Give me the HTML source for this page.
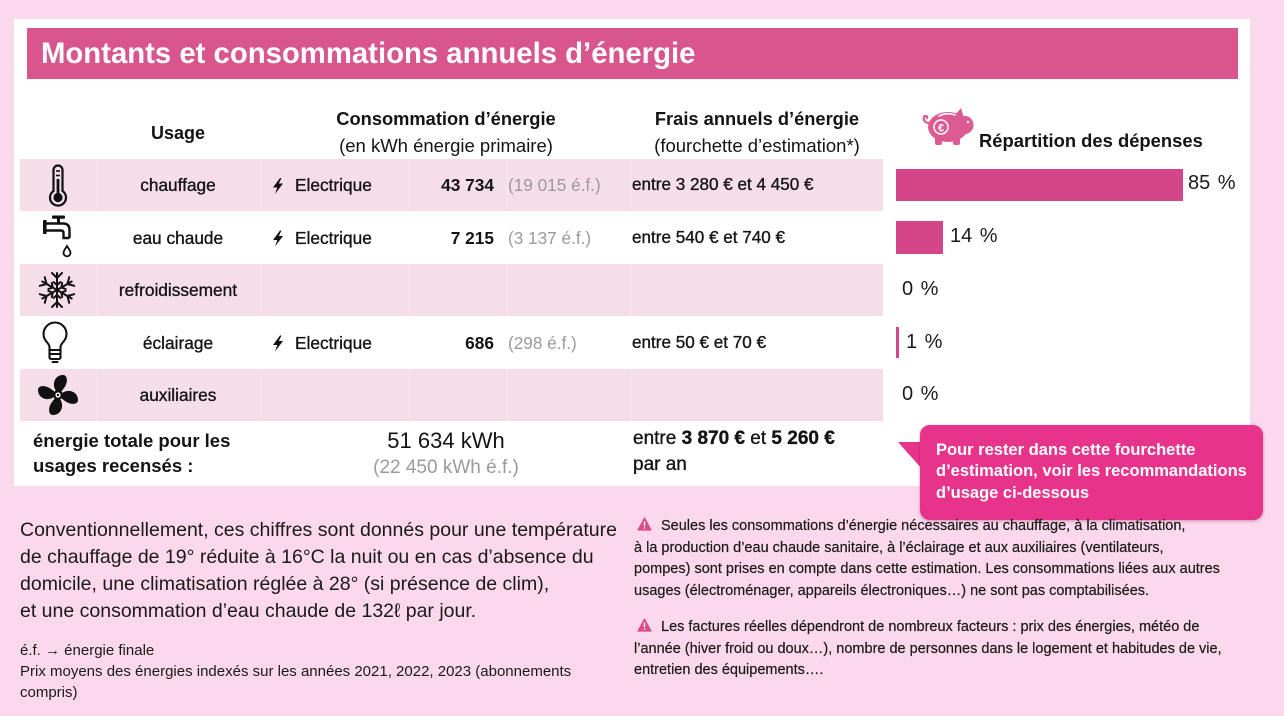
<!DOCTYPE html>
<html><head><meta charset="utf-8">
<style>
*{margin:0;padding:0;box-sizing:border-box}
body{width:1284px;height:716px;background:#fbd8ec;position:relative;overflow:hidden;font-family:"Liberation Sans",Arial,sans-serif;color:#141414}
.a{position:absolute;white-space:nowrap}
.c{text-align:center}
.b{font-weight:bold}
.m{-webkit-text-stroke:0.35px #141414}
.g{color:#9a9a9a}
.row{position:absolute;left:20px;width:863px;height:52px;background:#f6dee9}
.sep{position:absolute;width:1px;background:#f8e7ef}
.pct{font-size:20px;word-spacing:2px;color:#1a1a1a;line-height:24px}
</style></head><body>

<!-- white panel -->
<div class="a" style="left:14px;top:19px;width:1236px;height:467px;background:#fff"></div>
<!-- header bar -->
<div class="a" style="left:27px;top:28px;width:1211px;height:51px;background:#d8558d"></div>
<div class="a b" style="left:41px;top:34px;line-height:40px;font-size:29.3px;color:#fff">Montants et consommations annuels d’énergie</div>

<!-- pink rows -->
<div class="row" style="top:159px"></div>
<div class="row" style="top:264px"></div>
<div class="row" style="top:369px"></div>
<!-- faint separators in pink rows -->
<div class="sep" style="left:96px;top:159px;height:52px"></div>
<div class="sep" style="left:261px;top:159px;height:52px"></div>
<div class="sep" style="left:409px;top:159px;height:52px"></div>
<div class="sep" style="left:507px;top:159px;height:52px"></div>
<div class="sep" style="left:631px;top:159px;height:52px"></div>
<div class="sep" style="left:96px;top:264px;height:52px"></div>
<div class="sep" style="left:261px;top:264px;height:52px"></div>
<div class="sep" style="left:409px;top:264px;height:52px"></div>
<div class="sep" style="left:507px;top:264px;height:52px"></div>
<div class="sep" style="left:631px;top:264px;height:52px"></div>
<div class="sep" style="left:96px;top:369px;height:52px"></div>
<div class="sep" style="left:261px;top:369px;height:52px"></div>
<div class="sep" style="left:409px;top:369px;height:52px"></div>
<div class="sep" style="left:507px;top:369px;height:52px"></div>
<div class="sep" style="left:631px;top:369px;height:52px"></div>

<!-- column headers -->
<div class="a b c" style="left:78px;width:200px;top:120.5px;line-height:24px;font-size:18px">Usage</div>
<div class="a b c" style="left:296px;width:300px;top:107px;line-height:24px;font-size:18.3px">Consommation d’énergie</div>
<div class="a c" style="left:296px;width:300px;top:134px;line-height:24px;font-size:18.5px">(en kWh énergie primaire)</div>
<div class="a b c" style="left:607px;width:300px;top:107px;line-height:24px;font-size:18.3px">Frais annuels d’énergie</div>
<div class="a c" style="left:607px;width:300px;top:134px;line-height:24px;font-size:18.5px">(fourchette d’estimation*)</div>
<div class="a b" style="left:979px;top:128.5px;line-height:24px;font-size:18.4px">Répartition des dépenses</div>

<!-- row 1 -->
<div class="a c m" style="left:78px;width:200px;top:173px;line-height:24px;font-size:17.3px">chauffage</div>
<div class="a m" style="left:295px;top:173px;line-height:24px;font-size:17.3px">Electrique</div>
<div class="a b" style="left:394px;width:100px;text-align:right;top:173px;line-height:24px;font-size:17.3px">43 734</div>
<div class="a g" style="left:508px;top:173px;line-height:24px;font-size:17.2px">(19 015 é.f.)</div>
<div class="a m" style="left:632px;top:173px;line-height:24px;font-size:17.1px">entre 3 280 € et 4 450 €</div>

<!-- row 2 -->
<div class="a c m" style="left:78px;width:200px;top:225.5px;line-height:24px;font-size:17.3px">eau chaude</div>
<div class="a m" style="left:295px;top:225.5px;line-height:24px;font-size:17.3px">Electrique</div>
<div class="a b" style="left:394px;width:100px;text-align:right;top:225.5px;line-height:24px;font-size:17.3px">7 215</div>
<div class="a g" style="left:508px;top:225.5px;line-height:24px;font-size:17.2px">(3 137 é.f.)</div>
<div class="a m" style="left:632px;top:225.5px;line-height:24px;font-size:17.1px">entre 540 € et 740 €</div>

<!-- row 3 -->
<div class="a c m" style="left:78px;width:200px;top:278px;line-height:24px;font-size:17.3px">refroidissement</div>

<!-- row 4 -->
<div class="a c m" style="left:78px;width:200px;top:330.5px;line-height:24px;font-size:17.3px">éclairage</div>
<div class="a m" style="left:295px;top:330.5px;line-height:24px;font-size:17.3px">Electrique</div>
<div class="a b" style="left:394px;width:100px;text-align:right;top:330.5px;line-height:24px;font-size:17.3px">686</div>
<div class="a g" style="left:508px;top:330.5px;line-height:24px;font-size:17.2px">(298 é.f.)</div>
<div class="a m" style="left:632px;top:330.5px;line-height:24px;font-size:17.1px">entre 50 € et 70 €</div>

<!-- row 5 -->
<div class="a c m" style="left:78px;width:200px;top:383px;line-height:24px;font-size:17.3px">auxiliaires</div>

<!-- percents -->
<div class="a pct" style="left:1188px;top:171px">85 %</div>
<div class="a pct" style="left:950px;top:224px">14 %</div>
<div class="a pct" style="left:902px;top:277px">0 %</div>
<div class="a pct" style="left:906px;top:330px">1 %</div>
<div class="a pct" style="left:902px;top:382px">0 %</div>

<!-- total row -->
<div class="a b" style="left:33px;top:427.5px;line-height:25px;font-size:18.5px">énergie totale pour les<br>usages recensés :</div>
<div class="a c" style="left:296px;width:300px;top:428px;line-height:26px;font-size:22px">51 634 kWh</div>
<div class="a c g" style="left:296px;width:300px;top:456px;line-height:24px;font-size:19px">(22 450 kWh é.f.)</div>
<div class="a m" style="left:633px;top:426px;line-height:26px;font-size:19px">entre <b>3 870</b> <b>€</b> et <b>5 260</b> <b>€</b><br>par an</div>

<!-- SVG graphics -->
<svg class="a" style="left:0;top:0" width="1284" height="716" viewBox="0 0 1284 716">
  <!-- bars -->
  <rect x="896" y="169" width="287" height="32" fill="#d4458a"/>
  <rect x="896" y="221" width="47" height="33" fill="#d4458a"/>
  <rect x="896" y="327" width="3" height="31" fill="#d4458a"/>

  <!-- thermometer -->
  <g fill="none" stroke="#111" stroke-width="2.2">
    <path d="M53.5,191 V170 A4.5,4.5 0 0 1 62.5,170 V191 A8,8 0 1 1 53.5,191 Z"/>
    <line x1="56" y1="171" x2="60" y2="171" stroke-width="1.6"/>
    <line x1="56" y1="175.5" x2="60" y2="175.5" stroke-width="1.6"/>
  </g>
  <circle cx="58" cy="197.5" r="4.6" fill="#111"/>
  <rect x="56.6" y="179" width="2.8" height="18" fill="#111"/>

  <!-- tap -->
  <g fill="#111">
    <rect x="52" y="215.5" width="13" height="3.2" rx="1"/>
    <rect x="57" y="217" width="3" height="6"/>
    <rect x="43" y="220" width="3.6" height="14" rx="0.8"/>
  </g>
  <path d="M46,223.5 H63 Q69.5,223.5 69.5,230 V238 M46,230.5 H61 Q63.5,230.5 63.5,233 V238 H69.5" fill="none" stroke="#111" stroke-width="2.4"/>
  <path d="M67,246 C65,249 63.5,251 63.5,252.8 A3.5,3.5 0 0 0 70.5,252.8 C70.5,251 69,249 67,246 Z" fill="none" stroke="#111" stroke-width="1.8"/>

  <!-- snowflake -->
  <g transform="translate(57,290)" stroke="#111" stroke-width="2" fill="none" stroke-linecap="round">
    <g><line x1="0" y1="0" x2="0" y2="-17"/><polyline points="-5,-17 0,-12 5,-17"/><polyline points="-3.5,-8 0,-5 3.5,-8"/></g>
    <g transform="rotate(60)"><line x1="0" y1="0" x2="0" y2="-17"/><polyline points="-5,-17 0,-12 5,-17"/><polyline points="-3.5,-8 0,-5 3.5,-8"/></g>
    <g transform="rotate(120)"><line x1="0" y1="0" x2="0" y2="-17"/><polyline points="-5,-17 0,-12 5,-17"/><polyline points="-3.5,-8 0,-5 3.5,-8"/></g>
    <g transform="rotate(180)"><line x1="0" y1="0" x2="0" y2="-17"/><polyline points="-5,-17 0,-12 5,-17"/><polyline points="-3.5,-8 0,-5 3.5,-8"/></g>
    <g transform="rotate(240)"><line x1="0" y1="0" x2="0" y2="-17"/><polyline points="-5,-17 0,-12 5,-17"/><polyline points="-3.5,-8 0,-5 3.5,-8"/></g>
    <g transform="rotate(300)"><line x1="0" y1="0" x2="0" y2="-17"/><polyline points="-5,-17 0,-12 5,-17"/><polyline points="-3.5,-8 0,-5 3.5,-8"/></g>
  </g>

  <!-- bulb -->
  <g fill="none" stroke="#111" stroke-width="2.1" stroke-linecap="round">
    <path d="M49.5,350 V347 C49.5,343 43.5,341 43.5,334 A11.5,11.5 0 1 1 66.5,334 C66.5,341 60.5,343 60.5,347 V350 Z"/>
    <path d="M49.5,350 V357 Q49.5,359 51.5,359 H58.5 Q60.5,359 60.5,357 V350"/>
    <line x1="50" y1="354" x2="60" y2="354"/>
    <line x1="52.5" y1="362" x2="57.5" y2="362"/>
  </g>

  <!-- fan -->
  <g transform="translate(58,395)" fill="#111">
    <path d="M-1,-3 C-7,-9 -4,-20 5,-20 C10,-20 10,-12 6,-7 C4,-4 2,-2 0,-1 Z"/>
    <path transform="rotate(90)" d="M-1,-3 C-7,-9 -4,-20 5,-20 C10,-20 10,-12 6,-7 C4,-4 2,-2 0,-1 Z"/>
    <path transform="rotate(180)" d="M-1,-3 C-7,-9 -4,-20 5,-20 C10,-20 10,-12 6,-7 C4,-4 2,-2 0,-1 Z"/>
    <path transform="rotate(270)" d="M-1,-3 C-7,-9 -4,-20 5,-20 C10,-20 10,-12 6,-7 C4,-4 2,-2 0,-1 Z"/>
    <circle r="5" fill="#111"/>
    <circle r="2.6" fill="#fff"/>
    <circle r="1.2" fill="#111"/>
  </g>

  <!-- bolts -->
  <path d="M280,178 L273,187.5 L277.3,187.5 L275,194 L283,183.5 L278.8,183.5 L281.5,178 Z" fill="#111"/>
  <path transform="translate(0,52.5)" d="M280,178 L273,187.5 L277.3,187.5 L275,194 L283,183.5 L278.8,183.5 L281.5,178 Z" fill="#111"/>
  <path transform="translate(0,157.5)" d="M280,178 L273,187.5 L277.3,187.5 L275,194 L283,183.5 L278.8,183.5 L281.5,178 Z" fill="#111"/>

  <!-- piggy bank -->
  <g fill="#dd5a93">
    <ellipse cx="948" cy="127" rx="20" ry="15"/>
    <ellipse cx="965" cy="125" rx="8.5" ry="9"/>
    <path d="M955,115 L961,108 L964,118 Z"/>
    <rect x="935" y="136" width="7" height="9" rx="2"/>
    <rect x="953" y="136" width="7" height="9" rx="2"/>
    <path d="M929,123 C925,123 923,120 924,117 C925,115 928,116 927,118" fill="none" stroke="#dd5a93" stroke-width="2.2" stroke-linecap="round"/>
  </g>
  <path d="M939,116 Q947,112 955,115" fill="none" stroke="#fff" stroke-width="1.6" stroke-linecap="round"/>
  <circle cx="941" cy="127" r="7" fill="none" stroke="#fff" stroke-width="1.5"/>
  <text x="941" y="131.5" font-family="Liberation Sans, sans-serif" font-size="11" font-weight="bold" fill="#fff" text-anchor="middle">€</text>
  <circle cx="968" cy="122" r="1.2" fill="#fff"/>

  <!-- callout pointer -->
  <polygon points="898,442 922,442 922,469" fill="#e7338a"/>

  <!-- warning triangles -->
  <g>
    <polygon points="644.5,518 651,530 638,530" fill="#d84d8a" stroke="#d84d8a" stroke-width="1.2" stroke-linejoin="round"/>
    <rect x="643.8" y="521.5" width="1.4" height="4.6" fill="#fff"/>
    <rect x="643.8" y="527.2" width="1.4" height="1.4" fill="#fff"/>
    <g transform="translate(0,101)">
      <polygon points="644.5,518 651,530 638,530" fill="#d84d8a" stroke="#d84d8a" stroke-width="1.2" stroke-linejoin="round"/>
      <rect x="643.8" y="521.5" width="1.4" height="4.6" fill="#fff"/>
      <rect x="643.8" y="527.2" width="1.4" height="1.4" fill="#fff"/>
    </g>
  </g>
</svg>

<!-- callout -->
<div class="a" style="left:920px;top:425px;width:343px;height:95px;background:#e7338a;border-radius:10px;box-shadow:0 1px 3px rgba(120,0,60,0.35)"></div>
<div class="a b" style="left:936px;top:439.5px;line-height:21.5px;font-size:16.5px;color:#fff">Pour rester dans cette fourchette<br>d’estimation, voir les recommandations<br>d’usage ci-dessous</div>

<!-- bottom left -->
<div class="a" style="left:20px;top:516.5px;line-height:27px;font-size:19.5px;color:#1a1a1a">Conventionnellement, ces chiffres sont donnés pour une température<br>de chauffage de 19° réduite à 16°C la nuit ou en cas d’absence du<br>domicile, une climatisation réglée à 28° (si présence de clim),<br>et une consommation d’eau chaude de 132ℓ par jour.</div>
<div class="a" style="left:20px;top:639.5px;line-height:21px;font-size:15px;color:#1a1a1a">é.f. → énergie finale<br>Prix moyens des énergies indexés sur les années 2021, 2022, 2023 (abonnements<br>compris)</div>

<!-- bottom right -->
<div class="a" style="left:634px;top:516px;line-height:21.7px;font-size:14.5px;color:#1a1a1a;-webkit-text-stroke:0.2px #1a1a1a"><span style="padding-left:27px">Seules les consommations d’énergie nécessaires au chauffage, à la climatisation,</span><br>à la production d’eau chaude sanitaire, à l’éclairage et aux auxiliaires (ventilateurs,<br>pompes) sont prises en compte dans cette estimation. Les consommations liées aux autres<br>usages (électroménager, appareils électroniques…) ne sont pas comptabilisées.</div>
<div class="a" style="left:634px;top:617px;line-height:21.7px;font-size:14.5px;color:#1a1a1a;-webkit-text-stroke:0.2px #1a1a1a"><span style="padding-left:27px">Les factures réelles dépendront de nombreux facteurs : prix des énergies, météo de</span><br>l’année (hiver froid ou doux…), nombre de personnes dans le logement et habitudes de vie,<br>entretien des équipements….</div>

</body></html>
